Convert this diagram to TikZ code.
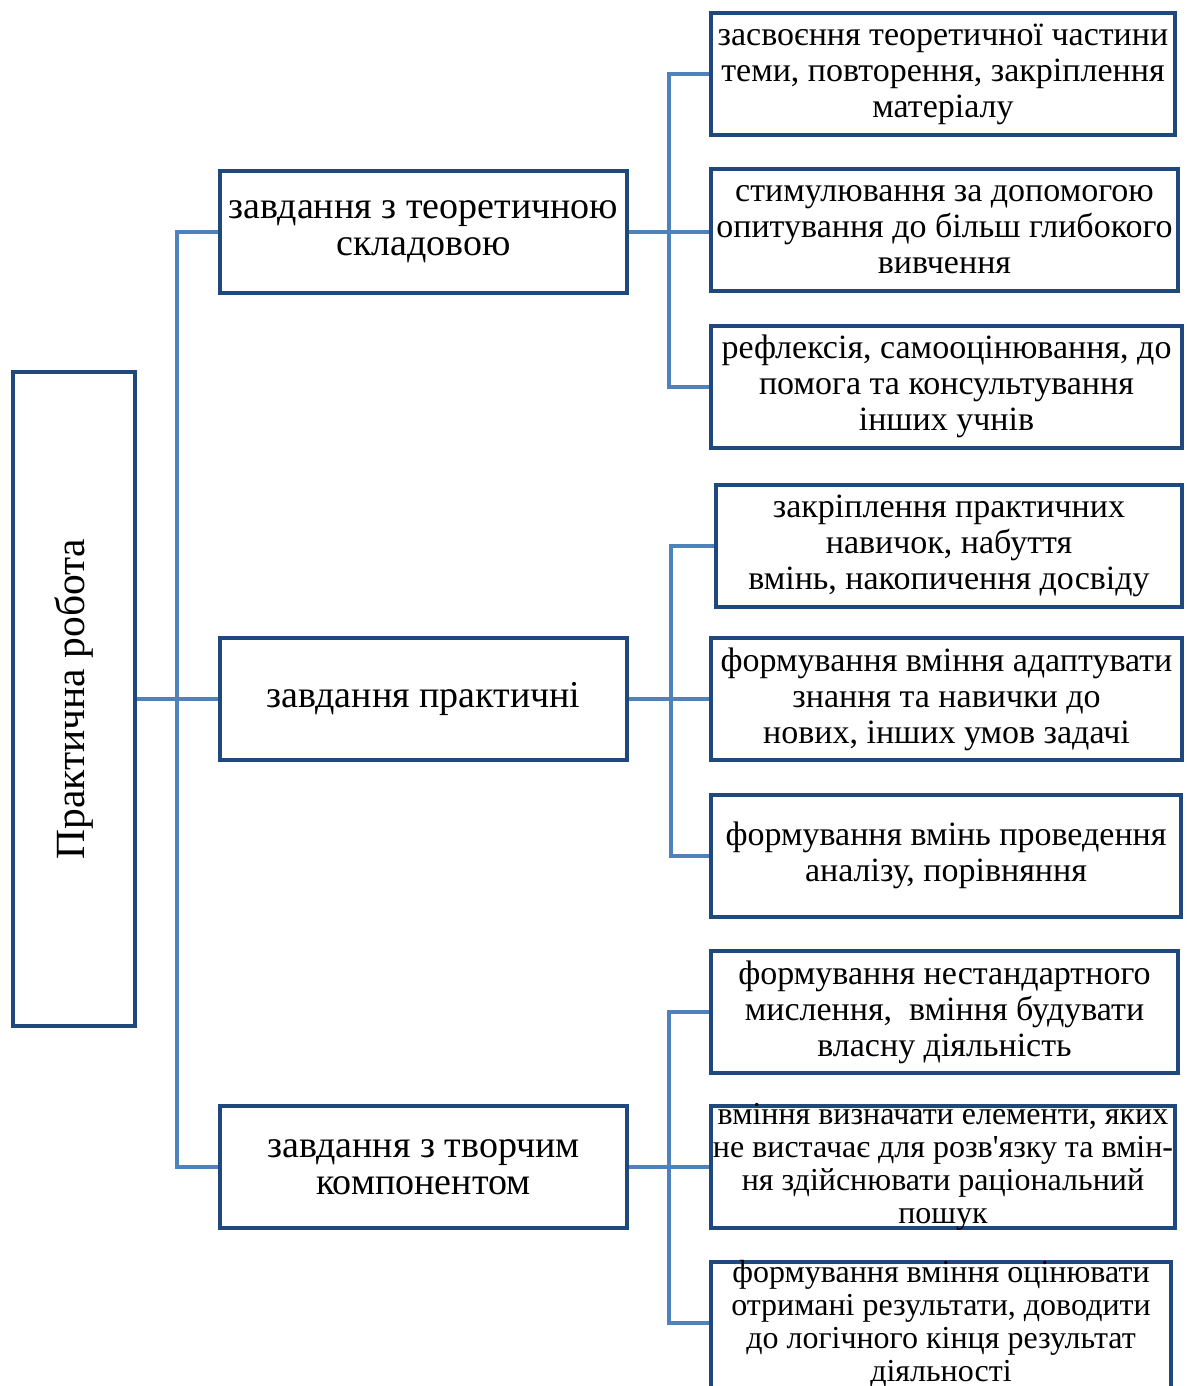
\documentclass[tikz,border=0pt]{standalone}
\usepackage{fontspec}
\setmainfont{Liberation Serif}
\usepackage{graphicx}
\usepackage{xcolor}
\usepackage{tikz}

\definecolor{boxblue}{RGB}{31,73,125}
\definecolor{lineblue}{RGB}{79,129,189}

\tikzset{
	box/.style={draw=boxblue,line width=4pt,align=center,inner sep=0pt,minimum height=122pt},
	mid/.style={box,minimum width=407pt,font=\fontsize{38}{37}\selectfont},
	leaf/.style={box,font=\fontsize{34}{36}\selectfont},
	tighttext/.style={align=center,inner sep=0pt,font=\fontsize{32}{33}\selectfont},
	conn/.style={draw=lineblue,line width=4pt},
}

\begin{document}
\begin{tikzpicture}[x=1pt,y=-1pt]
	\useasboundingbox (0,0) rectangle (1186,1386);
	
	\coordinate (tr) at (177,0);
	\coordinate (ba) at (669,0);
	\coordinate (bb) at (671,0);
	\coordinate (bc) at (669,0);
	
	\node[box,minimum width=122pt,minimum height=654pt,font=\fontsize{41.5}{44}\selectfont] (root) at (74,699) {\rotatebox{90}{Практична робота}};
	
	\node[mid] (m1) at (423.5,232) {завдання з теоретичною\\складовою};
	\node[mid] (m2) at (423.5,699) {завдання практичні};
	\node[mid] (m3) at (423.5,1167) {завдання з творчим\\компонентом};
	
	% теоретична складова
	\node[leaf,minimum width=464pt] (l1) at (943,74) {засвоєння теоретичної частини\\теми, повторення, закріплення\\матеріалу};
	\node[leaf,minimum width=467pt] (l2) at (944.5,230) {стимулювання за допомогою\\опитування до більш глибокого\\вивчення};
	\node[leaf,minimum width=471pt] (l3) at (946.5,386.5) {рефлексія, самооцінювання, до\\помога та консультування\\інших учнів};
	
	% практичні
	\node[leaf,minimum width=466pt] (l4) at (949,545.5) {закріплення практичних\\навичок, набуття\\вмінь, накопичення досвіду};
	\node[leaf,minimum width=471pt] (l5) at (946.5,699) {формування вміння адаптувати\\знання та навички до\\нових, інших умов задачі};
	\node[leaf,minimum width=470pt] (l6) at (946,855.5) {формування вмінь проведення\\аналізу, порівняння};
	
	% творчий компонент
	\node[leaf,minimum width=467pt] (l7) at (944.5,1012) {формування нестандартного\\мислення,\ \ вміння будувати\\власну діяльність};
	\node[leaf,minimum width=464pt] (l8) at (943,1167) {};
	\node[tighttext] (l8t) at (l8.center) {вміння визначати елементи, яких\\не вистачає для розв\textquotesingle язку та вмін-\\ня здійснювати раціональний\\пошук};
	\node[leaf,minimum width=460pt,minimum height=132pt] (l9) at (941,1328) {};
	\node[tighttext] (l9t) at ([yshift=4pt]l9.center) {формування вміння оцінювати\\отримані результати, доводити\\до логічного кінця результат\\діяльності};
	\coordinate (l9in) at ([yshift=5pt]l9.west);
	
	\draw[conn] (root.east) -- (m2.west);
	\draw[conn] (m1.west) -- (m1.west -| tr) -- (m3.west -| tr) -- (m3.west);
	
	\draw[conn] (m1.east) -- (m1.east -| l2.west);
	\draw[conn] (l1.west) -- (l1.west -| ba) -- (l3.west -| ba) -- (l3.west);
	\draw[conn] (m2.east) -- (l5.west);
	\draw[conn] (l4.west) -- (l4.west -| bb) -- (l6.west -| bb) -- (l6.west);
	\draw[conn] (m3.east) -- (l8.west);
	\draw[conn] (l7.west) -- (l7.west -| bc) -- (l9in -| bc) -- (l9in);
\end{tikzpicture}
\end{document}
